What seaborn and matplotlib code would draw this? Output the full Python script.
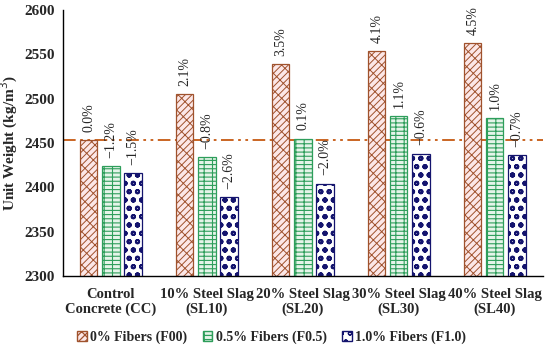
import numpy as np
import pandas as pd
import matplotlib
matplotlib.use("Agg")
import matplotlib.pyplot as plt
import seaborn as sns

# -------------------------
# data
# -------------------------
groups = ["Control\nConcrete (CC)", "10% Steel Slag\n(SL10)", "20% Steel Slag\n(SL20)",
          "30% Steel Slag\n(SL30)", "40% Steel Slag\n(SL40)"]
fibers = ["0% Fibers (F00)", "0.5% Fibers (F0.5)", "1.0% Fibers (F1.0)"]
f00 = [2453, 2505, 2539, 2554, 2563]
f05 = [2424, 2434, 2455, 2480, 2478]
f10 = [2416, 2389, 2404, 2438, 2436]
pct_f00 = ["0.0%", "2.1%", "3.5%", "4.1%", "4.5%"]
pct_f05 = ["\u22121.2%", "\u22120.8%", "0.1%", "1.1%", "1.0%"]
pct_f10 = ["\u22121.5%", "\u22122.6%", "\u22122.0%", "\u22120.6%", "\u22120.7%"]
ref_value = 2453

df = pd.DataFrame({
    "group": groups * 3,
    "fiber": [fibers[0]] * 5 + [fibers[1]] * 5 + [fibers[2]] * 5,
    "uw": f00 + f05 + f10,
})

sns.set_style("white")
plt.rcParams["font.family"] = ["Liberation Serif", "DejaVu Serif"]
plt.rcParams["hatch.linewidth"] = 0.9

fig = plt.figure(figsize=(5.5, 3.48), dpi=100)
ax = fig.add_axes([0.1145, 0.207, 0.8725, 0.764])

fills = ["#FFE4E4", "#E3F6E8", "#FFFFFF"]
edges = ["#A0522D", "#2E9E5B", "#14146E"]
hatches = ["/////\\\\", "----||", "oo"]
hatch_lw = [0.7, 0.8, 1.4]


def style_patch(p, k):
    p.set_hatch(hatches[k])
    p.set_edgecolor(edges[k])
    if hasattr(p, "set_hatch_linewidth"):
        p.set_hatch_linewidth(hatch_lw[k])
    elif hasattr(p, "_hatch_linewidth"):
        p._hatch_linewidth = hatch_lw[k]


sns.barplot(data=df, x="group", y="uw", hue="fiber", hue_order=fibers,
            palette=fills, width=0.69, gap=0.22, ax=ax, legend=True)

labels = [pct_f00, pct_f05, pct_f10]
for k, cont in enumerate(ax.containers):
    for bar in cont:
        style_patch(bar, k)
        bar.set_linewidth(0.9)
    ax.bar_label(cont, labels=labels[k], rotation=90, padding=6, fontsize=10)

ax.axhline(ref_value, color="#C65911", lw=1.3, dashes=(7, 2.5, 1.5, 2.5, 1.5, 2.5), zorder=0.5)

ax.set_ylim(2300, 2600)
ax.set_yticks(np.arange(2300, 2601, 50))
ax.set_xlim(-0.5, 4.5)
ax.set_xlabel("")
ax.set_ylabel("Unit Weight (kg/m$^3$)", fontsize=11, fontweight="bold", labelpad=3)
ax.tick_params(axis="y", labelsize=11, length=0, pad=6)
ax.tick_params(axis="x", labelsize=10.5, length=0, pad=9)
for t in ax.get_xticklabels() + ax.get_yticklabels():
    t.set_fontweight("bold")
    t.set_linespacing(1.1)
sns.despine(ax=ax)
for s in ["left", "bottom"]:
    ax.spines[s].set_color("black")
    ax.spines[s].set_linewidth(1.0)

h, l = ax.get_legend_handles_labels()
for k, hd in enumerate(h):
    style_patch(hd, k)
ax.legend(h, l, loc="center", bbox_to_anchor=(0.435, -0.23), ncol=3, frameon=False,
          handlelength=0.7, handleheight=0.7, handletextpad=0.25, columnspacing=1.1,
          prop={"size": 10, "weight": "bold"})

fig.savefig("out.png", dpi=100)
